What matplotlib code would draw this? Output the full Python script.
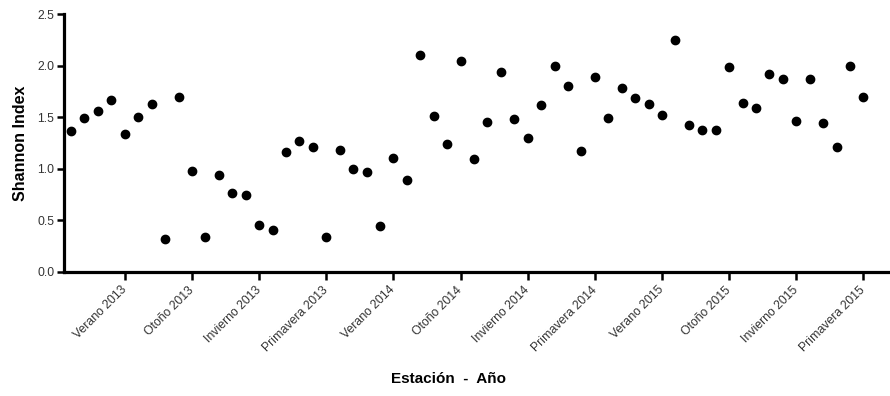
import matplotlib
matplotlib.use('Agg')
import matplotlib.pyplot as plt

plt.rcParams['font.family'] = ['Liberation Sans', 'DejaVu Sans']

# shannon index per sampling, 5 samplings per season
shannon = [1.37, 1.49, 1.56, 1.67, 1.34, 1.50, 1.63, 0.32, 1.70, 0.98,
           0.34, 0.94, 0.76, 0.74, 0.45, 0.40, 1.16, 1.27, 1.21, 0.34,
           1.18, 1.00, 0.97, 0.44, 1.10, 0.89, 2.10, 1.51, 1.24, 2.05,
           1.09, 1.45, 1.94, 1.48, 1.30, 1.62, 2.00, 1.80, 1.17, 1.89,
           1.49, 1.78, 1.69, 1.63, 1.52, 2.25, 1.42, 1.38, 1.38, 1.99,
           1.64, 1.59, 1.92, 1.87, 1.46, 1.87, 1.44, 1.21, 2.00, 1.70]
sample = list(range(len(shannon)))

seasons = ['Verano 2013', 'Otoño 2013', 'Invierno 2013', 'Primavera 2013',
           'Verano 2014', 'Otoño 2014', 'Invierno 2014', 'Primavera 2014',
           'Verano 2015', 'Otoño 2015', 'Invierno 2015', 'Primavera 2015']
season_ticks = [4 + 5 * k for k in range(len(seasons))]

fig = plt.figure(figsize=(8.9, 3.96), dpi=100)
ax = fig.add_axes([0.072, 0.314, 0.928, 0.65])

ax.scatter(sample, shannon, s=36, color='black', zorder=3)

ax.set_xlim(-0.52, 60.98)
ax.set_ylim(0, 2.5)
ax.set_yticks([0, 0.5, 1.0, 1.5, 2.0, 2.5])
ax.set_yticklabels(['0.0', '0.5', '1.0', '1.5', '2.0', '2.5'])
ax.set_xticks(season_ticks)
ax.set_xticklabels(seasons, rotation=45, ha='right', va='center',
                   rotation_mode='anchor')

for s in ['top', 'right']:
    ax.spines[s].set_visible(False)
for s in ['left', 'bottom']:
    ax.spines[s].set_linewidth(2.3)

ax.tick_params(axis='both', width=1.8, length=5, labelsize=8.8,
               labelcolor='#333333', pad=2)
ax.tick_params(axis='x', length=6, pad=6)

ax.set_ylabel('Shannon Index', fontsize=11.5, fontweight='bold', va='center')
ax.yaxis.set_label_coords(-0.053, 0.5)
ax.set_xlabel('Estación  -  Año', fontsize=11, fontweight='bold', va='top')
ax.xaxis.set_label_coords(0.466, -0.39)

fig.savefig('out.png', dpi=100)
